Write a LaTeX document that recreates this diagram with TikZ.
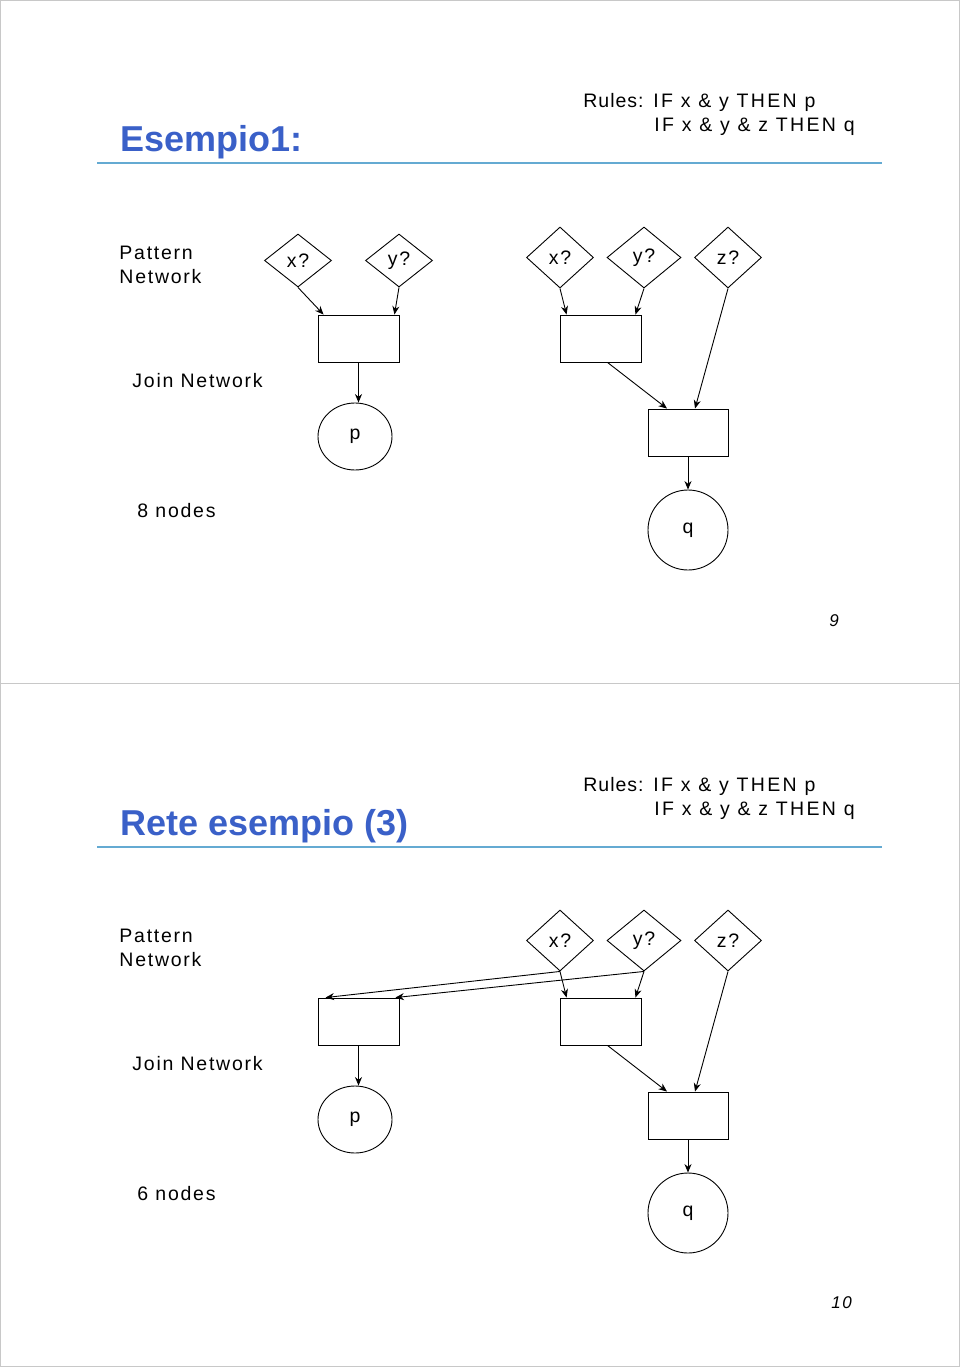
\documentclass[tikz,border=0pt]{standalone}
\usepackage{fontspec}
\setmainfont[LetterSpace=9]{Liberation Sans}
\newfontfamily\rulefont[LetterSpace=12]{Liberation Sans}
\newfontfamily\ruleheadfont[LetterSpace=5]{Liberation Sans}
\newfontfamily\titlefont{Liberation Sans}
\usetikzlibrary{shapes.geometric,arrows.meta}
\definecolor{titleblue}{RGB}{58,96,200}
\definecolor{ruleblue}{RGB}{100,170,210}
\definecolor{framegray}{RGB}{200,200,200}
\begin{document}
\begin{tikzpicture}[x=1pt,y=-1pt, line width=0.9,
 txt/.style={anchor=base west, inner sep=0, font=\fontsize{19.5}{23}\selectfont},
 rtxt/.style={anchor=base west, inner sep=0, font=\rulefont\fontsize{19.5}{23}\selectfont},
 rhead/.style={anchor=base west, inner sep=0, font=\ruleheadfont\fontsize{19.5}{23}\selectfont},
 pnum/.style={anchor=base west, inner sep=0, font=\itshape\fontsize{17}{20}\selectfont},
 ttl/.style={anchor=base west, inner sep=0, font=\titlefont\bfseries\fontsize{36}{40}\selectfont, text=titleblue},
 test/.style={draw, diamond, minimum width=67, minimum height=61, inner sep=0, font=\fontsize{19.5}{23}\selectfont},
 mem/.style={draw, rectangle, minimum width=81, minimum height=47, inner sep=0},
 term/.style={draw, ellipse, inner sep=0, font=\fontsize{19.5}{23}\selectfont},
 arr/.style={-{Stealth[length=8.5,width=7]}},
 frame/.style={draw=framegray, line width=1},
 hrule/.style={draw=ruleblue, line width=2}
]
\useasboundingbox (0,0) rectangle (960,1367);
\draw[frame] (0.5,0.5) rectangle (959.5,683);
\draw[frame] (0.5,683) rectangle (959.5,1366.5);

% ---------- Slide 1 ----------
\node[ttl] (t1) at (120,152) {Esempio1:};
\draw[hrule] (97,163.5) -- (882,163.5);
\node[rhead] (rh1) at (583,108) {Rules:};
\node[rtxt] (r1a) at (653,108) {IF x \& y THEN p};
\node[rtxt] (r1b) at (654,132) {IF x \& y \& z THEN q};
\node[txt] (pn1a) at (119,259) {Pattern};
\node[txt] (pn1b) at (119,283) {Network};
\node[txt] (jn1) at (132,387) {Join Network};
\node[txt] (nn1) at (137,517) {8 nodes};
\node[pnum] (pg1) at (829,626) {9};

\node[test, minimum height=53] (ax) at (298,260.5) {x?};
\node[test, minimum height=53] (ay) at (399,260.5) {y?};
\node[test] (bx) at (560,257.5) {x?};
\node[test, minimum width=74] (by) at (644,257.5) {y?};
\node[test] (bz) at (728,257.5) {z?};
\node[mem] (m1) at (358.5,338.5) {};
\node[mem] (m2) at (600.5,338.5) {};
\node[mem, minimum width=80] (m3) at (688,432.5) {};
\node[term, minimum width=74, minimum height=67] (p1) at (355,436.5) {p};
\node[term, minimum width=80, minimum height=80] (q1) at (688,530) {q};

\draw[arr] (ax.south) -- ([xshift=6]m1.north west);
\draw[arr] (ay.south) -- ([xshift=-5]m1.north east);
\draw[arr] (m1.south) -- (m1.south |- p1.north);
\draw[arr] (bx.south) -- ([xshift=7]m2.north west);
\draw[arr] (by.south) -- ([xshift=-6]m2.north east);
\draw[arr] (bz.south) -- ([xshift=7]m3.north);
\draw[arr] ([xshift=7]m2.south) -- ([xshift=-21]m3.north);
\draw[arr] (m3.south) -- (q1.north);

% ---------- Slide 2 ----------
\node[ttl] (t2) at (120,835) {Rete esempio (3)};
\draw[hrule] (97,846.5) -- (882,846.5);
\node[rhead] (rh2) at (583,791) {Rules:};
\node[rtxt] (r2a) at (653,791) {IF x \& y THEN p};
\node[rtxt] (r2b) at (654,815) {IF x \& y \& z THEN q};
\node[txt] (pn2a) at (119,942) {Pattern};
\node[txt] (pn2b) at (119,966) {Network};
\node[txt] (jn2) at (132,1070) {Join Network};
\node[txt] (nn2) at (137,1200) {6 nodes};
\node[pnum] (pg2) at (831,1308) {10};

\node[test] (cx) at (560,940.5) {x?};
\node[test, minimum width=74] (cy) at (644,940.5) {y?};
\node[test] (cz) at (728,940.5) {z?};
\node[mem] (n1) at (358.5,1021.5) {};
\node[mem] (n2) at (600.5,1021.5) {};
\node[mem, minimum width=80] (n3) at (688,1115.5) {};
\node[term, minimum width=74, minimum height=67] (p2) at (355,1119.5) {p};
\node[term, minimum width=80, minimum height=80] (q2) at (688,1213) {q};

\draw[arr] (cx.south) -- ([xshift=8]n1.north west);
\draw[arr] (cy.south) -- ([xshift=-4]n1.north east);
\draw[arr] (n1.south) -- (n1.south |- p2.north);
\draw[arr] (cx.south) -- ([xshift=7]n2.north west);
\draw[arr] (cy.south) -- ([xshift=-6]n2.north east);
\draw[arr] (cz.south) -- ([xshift=7]n3.north);
\draw[arr] ([xshift=7]n2.south) -- ([xshift=-21]n3.north);
\draw[arr] (n3.south) -- (q2.north);
\end{tikzpicture}
\end{document}
